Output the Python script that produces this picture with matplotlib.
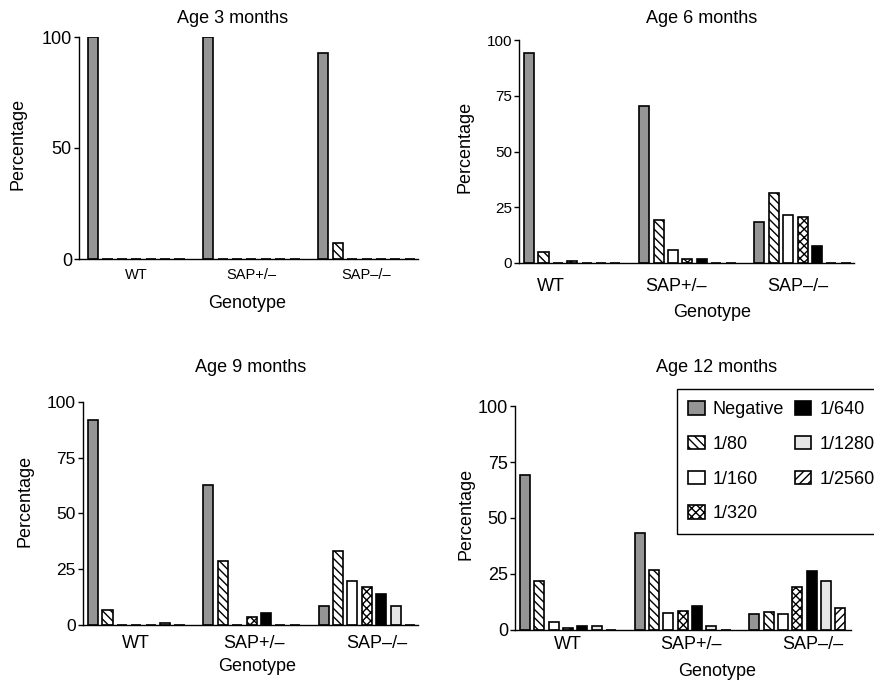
import numpy as np
import matplotlib
matplotlib.use('Agg')
import matplotlib.pyplot as plt

plt.rcParams['font.family'] = ['Liberation Sans', 'DejaVu Sans']
plt.rcParams['hatch.linewidth'] = 1.0

# data (percent of mice per titre)
genotypes = ['WT', 'SAP+/–', 'SAP–/–']
titres = ['Negative', '1/80', '1/160', '1/320', '1/640', '1/1280', '1/2560']
ages = ['Age 3 months', 'Age 6 months', 'Age 9 months', 'Age 12 months']

pct_3m = [[100, 0, 0, 0, 0, 0, 0],
          [100, 0, 0, 0, 0, 0, 0],
          [93, 7, 0, 0, 0, 0, 0]]
pct_6m = [[94, 5, 0, 1, 0, 0, 0],
          [70.5, 19.5, 6, 2, 2, 0, 0],
          [18.5, 31.5, 21.5, 20.5, 7.5, 0, 0]]
pct_9m = [[92, 6.5, 0, 0, 0, 1, 0],
          [62.5, 28.5, 0, 3.7, 5.3, 0, 0],
          [8.3, 33.3, 19.5, 16.8, 13.8, 8.3, 0]]
pct_12m = [[69, 22, 3.7, 1, 1.9, 1.9, 0],
           [43.5, 26.7, 7.8, 8.7, 10.8, 1.9, 0],
           [7, 8, 7, 19, 26.3, 22, 10]]
all_pct = [pct_3m, pct_6m, pct_9m, pct_12m]
yticks = [[0, 50, 100], [0, 25, 50, 75, 100], [0, 25, 50, 75, 100], [0, 25, 50, 75, 100]]

# bar styles per titre
colors = ['#959595', 'white', 'white', 'white', 'black', '#e6e6e6', 'white']
hatches = [None, '\\\\\\\\', None, 'xxxx', None, None, '////']

# panel layout, tuned by eye
W, H = 874, 680
boxes = [(79, 418, 37, 259), (519, 854, 40, 263), (83, 418, 401.7, 625), (515, 850.7, 406, 630)]
xlims = [(-0.98, 22.57), (-0.7, 22.57), (-0.7, 22.55), (-0.7, 22.72)]
lab_shift = [[0, 0, 0], [-1.5, -0.8, -0.3], [0, 0.2, 0.7], [0, 0.6, 1.1]]
title_x = [0.454, 0.545, 0.5, 0.6]
title_pad = [10.3, 12, 21.6, 24.7]
xlab_xy = [(0.496, -0.162), (0.575, -0.184), (0.519, -0.149), (0.601, -0.149)]
ylab_xy = [(-0.156, 0.52), (-0.136, 0.52), (-0.148, 0.556), (-0.121, 0.517)]
ytick_fs = [13, 11, 12.5, 13]
xtick_fs = [10.5, 13, 13, 13]
xtick_pad = [6.5, 11, 7, 4.3]

fig = plt.figure(figsize=(W / 100, H / 100), dpi=100)

for k in range(4):
    x0, x1, y0, y1 = boxes[k]
    ax = fig.add_axes([x0 / W, 1 - y1 / H, (x1 - x0) / W, (y1 - y0) / H])
    pct = np.array(all_pct[k])
    groups = np.arange(len(genotypes)) * 8
    bars = []
    for i, t in enumerate(titres):
        b = ax.bar(groups + i, pct[:, i], width=0.7, color=colors[i], hatch=hatches[i],
                   edgecolor='black', linewidth=1.2, label=t)
        bars.append(b)

    ax.set_xlim(*xlims[k])
    ax.set_ylim(0, 100)
    ax.set_yticks(yticks[k])
    ax.set_xticks(groups + 3 + np.array(lab_shift[k]))
    ax.set_xticklabels(genotypes)
    ax.tick_params(axis='x', length=0, labelsize=xtick_fs[k], pad=xtick_pad[k])
    ax.tick_params(axis='y', length=3.6, width=1.0, labelsize=ytick_fs[k], pad=1.5)
    for s in ['top', 'right']:
        ax.spines[s].set_visible(False)
    ax.spines['left'].set_linewidth(1.0)
    ax.spines['bottom'].set_linewidth(1.0)

    ax.set_title(ages[k], fontsize=13, x=title_x[k], pad=title_pad[k])
    ax.set_xlabel('Genotype', fontsize=13)
    ax.xaxis.set_label_coords(*xlab_xy[k])
    ax.set_ylabel('Percentage', fontsize=13)
    ax.yaxis.set_label_coords(*ylab_xy[k])

    if k == 3:
        # legend runs off the right edge, as in the original
        leg = ax.legend(handles=bars, ncol=2, loc='upper left',
                        bbox_to_anchor=(676.7 / W, 1 - 389.3 / H),
                        bbox_transform=fig.transFigure, fontsize=13,
                        frameon=True, fancybox=False, framealpha=1,
                        edgecolor='black', borderpad=0.65, labelspacing=0.98,
                        handlelength=0.9, handleheight=0.78, handletextpad=0.45,
                        columnspacing=0.6, borderaxespad=0)
        leg.get_frame().set_linewidth(1.0)

plt.savefig('out.png', dpi=100)
